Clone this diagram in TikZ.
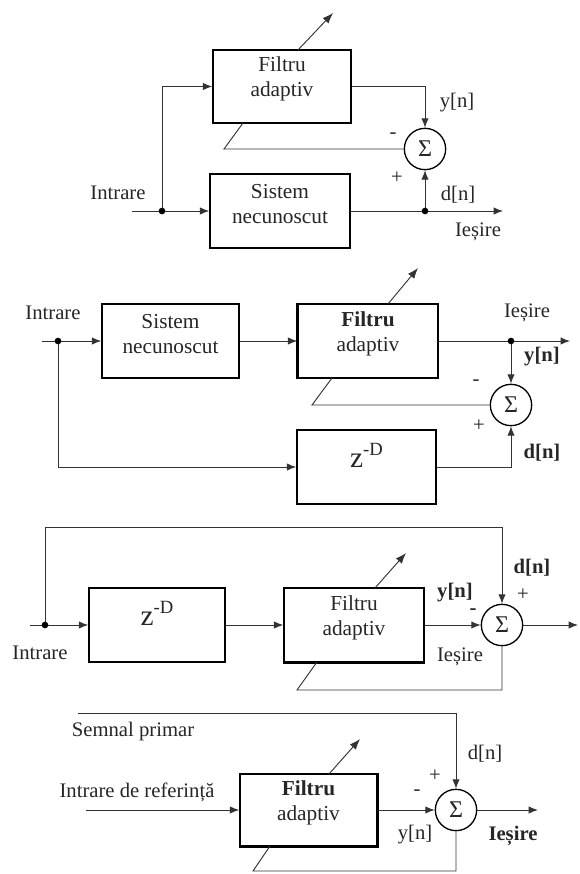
\documentclass[tikz,border=0pt]{standalone}
\usepackage{fontspec}
\setmainfont{Liberation Serif}
\usetikzlibrary{arrows.meta,fit}
\newcommand{\zD}{{\fontsize{22}{22}\selectfont z\raisebox{9pt}{\fontsize{14}{14}\selectfont -D}}}

\begin{document}
\begin{tikzpicture}[x=0.75pt,y=-0.75pt,
  every node/.style={font=\fontsize{15.5}{17}\selectfont, inner sep=0pt, text=black!85},
  blockbox/.style={draw=black, line width=1.1pt, inner sep=0pt, align=center,
    font=\fontsize{16}{19}\selectfont},
  sumnode/.style={circle, draw=black, line width=1pt, minimum size=31pt,
    inner sep=0pt, font=\fontsize{18}{18}\selectfont},
  wire/.style={draw=black!80, line width=0.7pt},
  sig/.style={wire, -{Latex[length=7pt,width=5.5pt]}},
  tune/.style={draw=black!80, line width=0.7pt, -{Latex[length=8pt,width=6pt]}},
  junction/.style={fill=black},
]
\useasboundingbox (0,0) rectangle (579,874);

% ---------------- system identification ----------------
\node[blockbox, fit={(213,50)(351,123)}] (F1) {Filtru\\adaptiv};
\node[blockbox, fit={(210,174)(350,248)}] (S1) {Sistem\\necunoscut};
\node[sumnode] (s1) at (425,149) {Σ};
\coordinate (in1) at (132,211);
\coordinate (j1) at (162,211);
\coordinate (b1) at (425,211);
\coordinate (out1) at (503,211);
\coordinate (fb1) at (224,149);
\coordinate (fe1) at (243,123);
\coordinate (ta1) at (298,50);
\coordinate (tb1) at (333,13);
\draw[sig] (in1) -- (S1.west);
\draw[sig] (j1) |- (F1.west);
\draw[sig] (F1.east) -| (s1.north);
\draw[wire] (s1.west) -- (fb1) -- (fe1);
\draw[sig] (S1.east) -- (out1);
\draw[sig] (b1) -- (s1.south);
\draw[tune] (ta1) -- (tb1);
\fill[junction] (j1) circle[radius=2.5pt];
\fill[junction] (b1) circle[radius=2.5pt];
\node (l1in) at (118,193) {Intrare};
\node (l1y) at (457,103) {y[n]};
\node (l1m) at (393,136) {-};
\node (l1p) at (397,178) {+};
\node (l1d) at (458,195) {d[n]};
\node (l1out) at (478,232) {Ieșire};

% ---------------- inverse modelling ----------------
\node[blockbox, fit={(102,304)(239,378)}] (S2) {Sistem\\necunoscut};
\node[blockbox, fit={(298,304)(438,378)}] (F2) {\textbf{Filtru}\\adaptiv};
\draw[line width=2.2pt] (F2.north west) -- (F2.south west);
\node[blockbox, fit={(297,430)(436,504)}] (Z2) {\zD};
\node[sumnode] (s2) at (511,405) {Σ};
\coordinate (in2) at (42,341);
\coordinate (j2) at (58,341);
\coordinate (b2) at (511,341);
\coordinate (out2) at (570,341);
\coordinate (fb2) at (312,405);
\coordinate (fe2) at (332,378);
\coordinate (ta2) at (388,304);
\coordinate (tb2) at (418,268);
\draw[sig] (in2) -- (S2.west);
\draw[sig] (S2.east) -- (F2.west);
\draw[sig] (F2.east) -- (out2);
\draw[sig] (b2) -- (s2.north);
\draw[wire] (s2.west) -- (fb2) -- (fe2);
\draw[sig] (j2) |- (Z2.west);
\draw[sig] (Z2.east) -| (s2.south);
\draw[tune] (ta2) -- (tb2);
\fill[junction] (j2) circle[radius=2.5pt];
\fill[junction] (b2) circle[radius=2.5pt];
\node (l2in) at (53,313) {Intrare};
\node (l2out) at (527,313) {Ieșire};
\node (l2y) at (542,357) {\textbf{y[n]}};
\node (l2m) at (476,383) {-};
\node (l2p) at (479,426) {+};
\node (l2d) at (542,453) {\textbf{d[n]}};

% ---------------- prediction ----------------
\node[blockbox, fit={(89,588)(225,662)}] (Z3) {\zD};
\node[blockbox, fit={(284,588)(424,662)}] (F3) {Filtru\\adaptiv};
\draw[line width=1.8pt] (F3.south west) -- (F3.south east);
\node[sumnode] (s3) at (502,625) {Σ};
\coordinate (in3) at (30,625);
\coordinate (j3) at (45,625);
\coordinate (c3) at (45,527);
\coordinate (out3) at (578,625);
\coordinate (bt3) at (502,690);
\coordinate (fb3) at (297,690);
\coordinate (fe3) at (317,662);
\coordinate (ta3) at (375,588);
\coordinate (tb3) at (406,553);
\draw[sig] (in3) -- (Z3.west);
\draw[sig] (Z3.east) -- (F3.west);
\draw[sig] (F3.east) -- (s3.west);
\draw[sig] (s3.east) -- (out3);
\draw[sig] (j3) -- (c3) -| (s3.north);
\draw[wire] (s3.south) -- (bt3) -- (fb3) -- (fe3);
\draw[tune] (ta3) -- (tb3);
\fill[junction] (j3) circle[radius=2.5pt];
\node (l3in) at (40,653) {Intrare};
\node (l3y) at (455,593) {\textbf{y[n]}};
\node (l3m) at (473,612) {\textbf{-}};
\node (l3out) at (460,657) {Ieșire};
\node (l3d) at (532,568) {\textbf{d[n]}};
\node (l3p) at (523,595) {+};

% ---------------- noise cancelling ----------------
\node[blockbox, fit={(240,774)(377,846)}] (F4) {\textbf{Filtru}\\adaptiv};
\draw[line width=1.8pt] (F4.south west) -- (F4.south east) -- (F4.north east);
\node[sumnode] (s4) at (456,810) {Σ};
\coordinate (in4) at (86,810);
\coordinate (pr4) at (78,713);
\coordinate (out4) at (538,810);
\coordinate (bt4) at (456,871);
\coordinate (fb4) at (253,871);
\coordinate (fe4) at (270,846);
\coordinate (ta4) at (329,774);
\coordinate (tb4) at (360,739);
\draw[sig] (in4) -- (F4.west);
\draw[sig] (pr4) -| (s4.north);
\draw[sig] (F4.east) -- (s4.west);
\draw[sig] (s4.east) -- (out4);
\draw[wire] (s4.south) -- (bt4) -- (fb4) -- (fe4);
\draw[tune] (ta4) -- (tb4);
\node (l4pr) at (133,732) {Semnal primar};
\node (l4ref) at (137,792) {Intrare de referință};
\node (l4m) at (417,793) {-};
\node (l4p) at (435,776) {+};
\node (l4d) at (485,754) {d[n]};
\node (l4y) at (415,835) {y[n]};
\node (l4out) at (513,836) {\textbf{Ieșire}};
\end{tikzpicture}
\end{document}
